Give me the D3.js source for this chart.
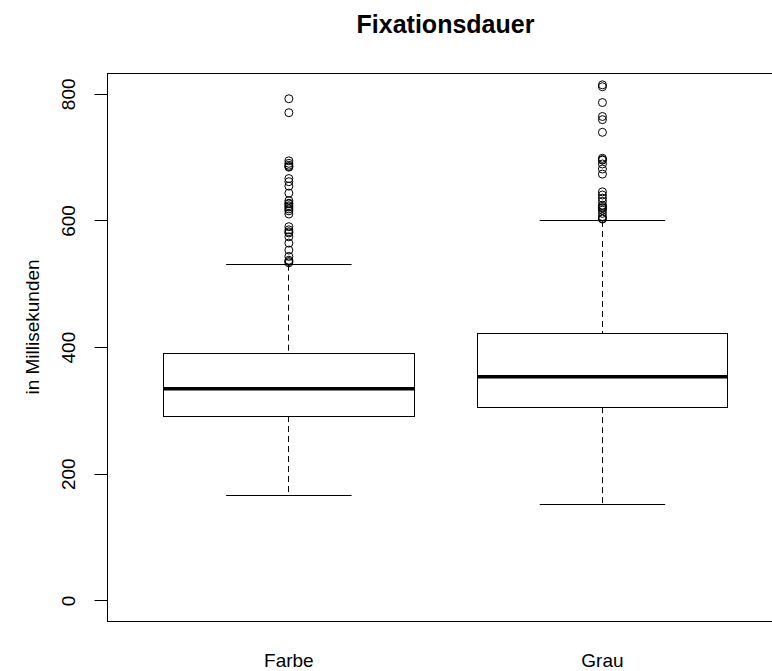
<!DOCTYPE html>
<html>
<head>
<meta charset="utf-8">
<script src="https://cdn.jsdelivr.net/npm/d3@7/dist/d3.min.js"></script>
<style>
  html, body { margin: 0; padding: 0; background: #fff; }
  svg { display: block; font-family: "Liberation Sans", Arial, sans-serif; }
</style>
</head>
<body>
<svg id="chart" width="772" height="671"></svg>
<script>
// ---- data ----
const chartTitle = "Fixationsdauer";
const yLabel = "in Millisekunden";
const categories = ["Farbe", "Grau"];
const lowerWhisker = [166, 152];
const q1 = [292, 306];
const median = [335, 354];
const q3 = [390, 423];
const upperWhisker = [531, 600];
const outliersFarbe = [793, 771, 695, 691, 688, 686, 685, 667, 662, 655, 644, 632, 628, 627, 624, 622, 619, 616, 611,
                       591, 586, 583, 581, 575, 565, 554, 544, 538, 536, 534];
const outliersGrau = [815, 812, 787, 765, 760, 740, 699, 697, 696, 690, 682, 674,
                      646, 641, 636, 631, 625, 623, 621, 620, 617, 612, 607, 604, 603];
const outliers = [outliersFarbe, outliersGrau];
const yTicks = [0, 200, 400, 600, 800];
const yDomain = [-32.8, 833.2];
const xDomain = [0.42, 2.58];

// ---- layout ----
const svg = d3.select("#chart");
const plot = { left: 107, right: 784.3, top: 73.3, bottom: 621.7 };
const x = d3.scaleLinear().domain(xDomain).range([plot.left, plot.right]);
const y = d3.scaleLinear().domain(yDomain).range([plot.bottom, plot.top]);
const snap = v => Math.floor(v) + 0.5;
const boxHalf = 0.4, capHalf = 0.2;
const ink = "#000";

// title
svg.append("text")
  .attr("x", 445.5)
  .attr("y", 33)
  .attr("text-anchor", "middle")
  .attr("font-weight", "bold")
  .attr("font-size", 25)
  .attr("fill", "#000")
  .text(chartTitle);

// y label
svg.append("text")
  .attr("transform", `translate(39,327) rotate(-90)`)
  .attr("text-anchor", "middle")
  .attr("font-size", 19)
  .attr("fill", "#000")
  .text(yLabel);

// boxes
const g = svg.append("g");
categories.forEach((c, i) => {
  const cx = snap(x(i + 1));
  // whiskers (dashed)
  g.append("line")
    .attr("x1", cx).attr("x2", cx)
    .attr("y1", y(upperWhisker[i])).attr("y2", y(q3[i]))
    .attr("stroke", ink).attr("stroke-width", 1).attr("stroke-dasharray", "6,4");
  g.append("line")
    .attr("x1", cx).attr("x2", cx)
    .attr("y1", y(q1[i])).attr("y2", y(lowerWhisker[i]))
    .attr("stroke", ink).attr("stroke-width", 1).attr("stroke-dasharray", "6,4");
  // caps
  [upperWhisker[i], lowerWhisker[i]].forEach(v => {
    g.append("line")
      .attr("x1", x(i + 1 - capHalf)).attr("x2", x(i + 1 + capHalf))
      .attr("y1", snap(y(v))).attr("y2", snap(y(v)))
      .attr("stroke", ink).attr("stroke-width", 1);
  });
  // box
  const bx0 = snap(x(i + 1 - boxHalf)), bx1 = snap(x(i + 1 + boxHalf));
  const by0 = snap(y(q3[i])), by1 = snap(y(q1[i]));
  g.append("rect")
    .attr("x", bx0).attr("y", by0)
    .attr("width", bx1 - bx0).attr("height", by1 - by0)
    .attr("fill", "#fff").attr("stroke", ink).attr("stroke-width", 1);
  // median
  g.append("line")
    .attr("x1", bx0).attr("x2", bx1)
    .attr("y1", y(median[i])).attr("y2", y(median[i]))
    .attr("stroke", ink).attr("stroke-width", 3.5);
  // outliers
  g.selectAll(null).data(outliers[i]).enter().append("circle")
    .attr("cx", x(i + 1))
    .attr("cy", d => y(d))
    .attr("r", 4)
    .attr("fill", "none")
    .attr("stroke", ink)
    .attr("stroke-width", 1);
});

// frame
svg.append("rect")
  .attr("x", snap(plot.left)).attr("y", snap(plot.top))
  .attr("width", snap(plot.right) - snap(plot.left))
  .attr("height", snap(plot.bottom) - snap(plot.top))
  .attr("fill", "none").attr("stroke", ink).attr("stroke-width", 1);

// y axis ticks + labels
const yAxis = svg.append("g");
yTicks.forEach(t => {
  const ty = snap(y(t));
  yAxis.append("line")
    .attr("x1", snap(plot.left) - 13).attr("x2", snap(plot.left))
    .attr("y1", ty).attr("y2", ty)
    .attr("stroke", ink).attr("stroke-width", 1);
  yAxis.append("text")
    .attr("transform", `translate(75,${y(t)}) rotate(-90)`)
    .attr("text-anchor", "middle")
    .attr("font-size", 19)
    .attr("fill", "#000")
    .text(t);
});

// x axis labels
const xAxis = svg.append("g");
categories.forEach((c, i) => {
  xAxis.append("text")
    .attr("x", x(i + 1))
    .attr("y", 667)
    .attr("text-anchor", "middle")
    .attr("font-size", 19)
    .attr("fill", "#000")
    .text(c);
});
</script>
</body>
</html>
